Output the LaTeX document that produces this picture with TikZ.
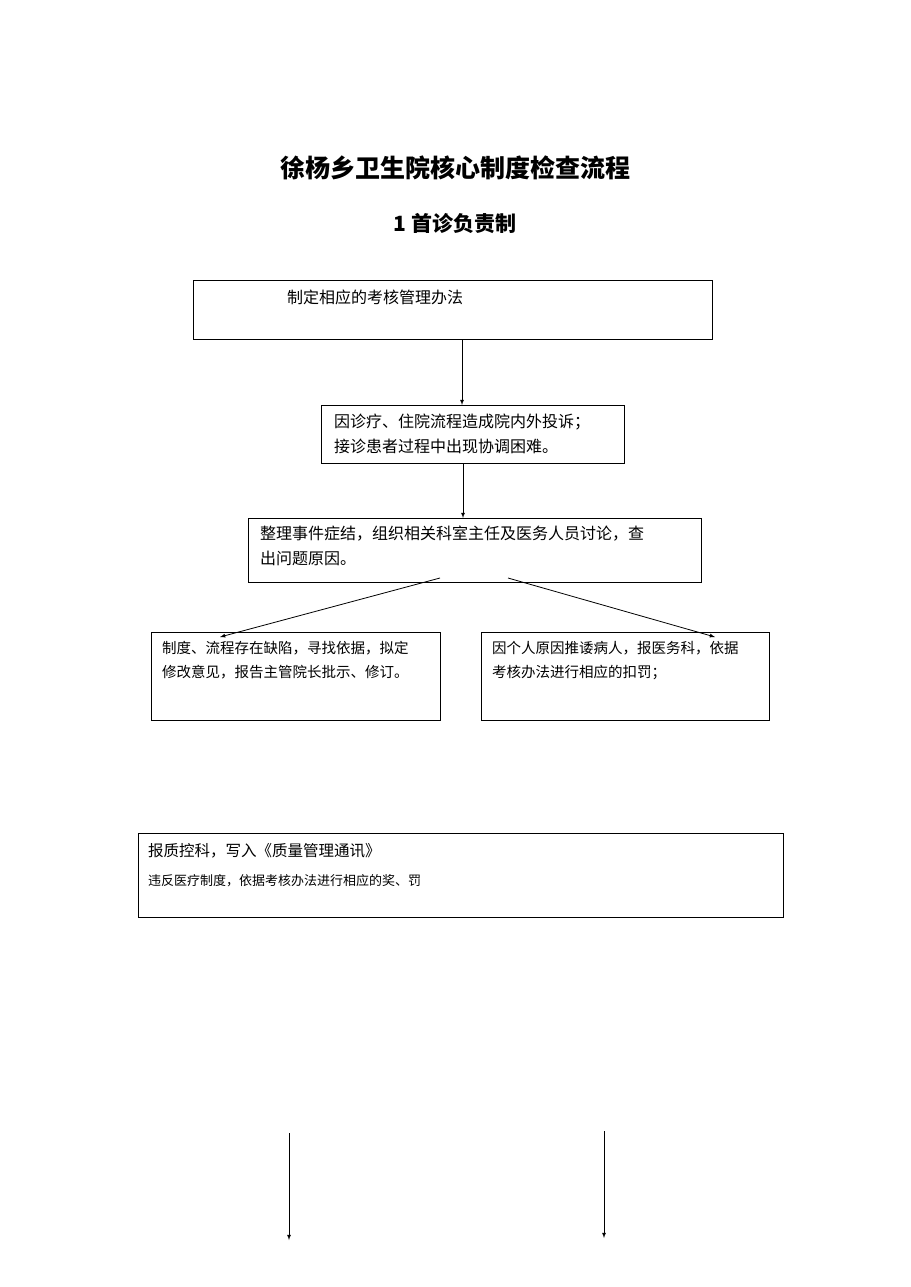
\documentclass[tikz,border=0pt]{standalone}
\usepackage{fontspec}
\setmainfont{Noto Sans CJK SC}
\newfontfamily\cjkb{Noto Sans CJK SC}[BoldFont={* Bold}]
\begin{document}
\begin{tikzpicture}[x=1pt,y=-1pt,
  box/.style={draw,line width=1pt},
  txt/.style={anchor=north west,inner sep=0pt,font=\fontsize{16}{25}\selectfont,align=left},
  arr/.style={-latex,line width=0.8pt}]
\useasboundingbox[fill=white] (0,0) rectangle (910,1287);
\node[font=\fontsize{25}{30}\selectfont\bfseries] (title) at (455,168) {徐杨乡卫生院核心制度检查流程};
\node[font=\fontsize{21}{26}\selectfont\bfseries] (sub) at (455,224) {1 首诊负责制};
\draw[box] (193,280) rectangle (712,339); \coordinate (b1) at (462,339);
\node[txt] (t1) at (287,290) {制定相应的考核管理办法};
\draw[box] (321,405) rectangle (624,463); \coordinate (b2t) at (462,405); \coordinate (b2b) at (463,463);
\node[txt] (t2) at (334,414) {因诊疗、住院流程造成院内外投诉；\\接诊患者过程中出现协调困难。};
\draw[box] (248,518) rectangle (701,582); \coordinate (b3t) at (463,518);
\node[txt] (t3) at (260,526) {整理事件症结，组织相关科室主任及医务人员讨论，查\\出问题原因。};
\coordinate (s1) at (440,578); \coordinate (s2) at (508,578);
\draw[box] (151,632) rectangle (440,720); \coordinate (b4) at (220,637);
\node[txt,font=\fontsize{14.5}{24}\selectfont] (t4) at (162,641) {制度、流程存在缺陷，寻找依据，拟定\\修改意见，报告主管院长批示、修订。};
\draw[box] (481,632) rectangle (769,720); \coordinate (b5) at (715,637);
\node[txt,font=\fontsize{14.5}{24}\selectfont] (t5) at (492,641) {因个人原因推诿病人，报医务科，依据\\考核办法进行相应的扣罚；};
\draw[box] (138,833) rectangle (783,917);
\node[txt,font=\fontsize{15.5}{22}\selectfont] (t6) at (148,843) {报质控科，写入《质量管理通讯》};
\node[txt,font=\fontsize{13}{16}\selectfont] (t7) at (148,874) {违反医疗制度，依据考核办法进行相应的奖、罚};
\draw[arr] (b1) -- (b2t);
\draw[arr] (b2b) -- (b3t);
\draw[arr] (s1) -- (b4);
\draw[arr] (s2) -- (b5);
\coordinate (a1) at (289,1133); \coordinate (a2) at (289,1240);
\coordinate (a3) at (604,1131); \coordinate (a4) at (604,1238);
\draw[arr] (a1) -- (a2);
\draw[arr] (a3) -- (a4);
\end{tikzpicture}
\end{document}
